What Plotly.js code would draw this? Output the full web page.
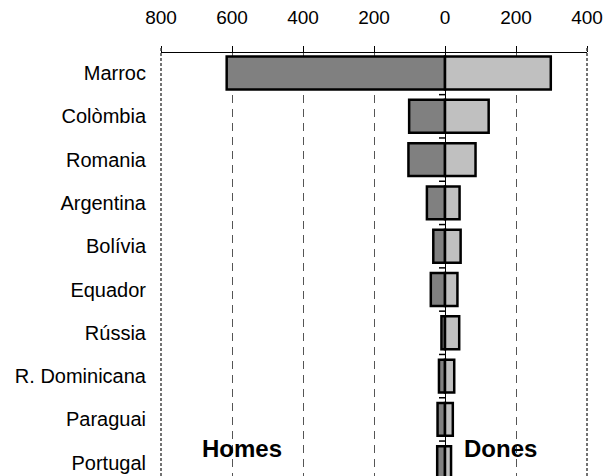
<!DOCTYPE html>
<html>
<head>
<meta charset="utf-8">
<script src="https://cdn.plot.ly/plotly-3.0.1.min.js"></script>
<style>html,body{margin:0;padding:0;background:#fff;}#chart{width:606px;height:476px;}</style>
</head>
<body>
<div id="chart"></div>
<script>
const countries = ["Marroc","Colòmbia","Romania","Argentina","Bolívia","Equador","Rússia","R. Dominicana","Paraguai","Portugal"];
const homes = [615, 101, 103, 51, 33, 40, 10, 17, 21, 22];
const dones = [298, 123, 86, 41, 44, 35, 40, 26, 22, 17];
const tickValues = [-800, -600, -400, -200, 0, 200, 400];
const tickLabels = ["800", "600", "400", "200", "0", "200", "400"];

const font = "Liberation Sans, Arial, sans-serif";
const yRange = [9.307, -0.462];
// boundaries between category rows (for the small ticks on the zero axis)
const boundaries = countries.map((c, i) => i + 0.5);

const traces = [
  {
    type: "bar", orientation: "h", name: "Homes",
    y: countries, x: homes.map(v => -v),
    marker: {color: "#808080", line: {color: "#000", width: 2.5}},
    hoverinfo: "skip"
  },
  {
    type: "bar", orientation: "h", name: "Dones",
    y: countries, x: dones,
    marker: {color: "#c0c0c0", line: {color: "#000", width: 2.5}},
    hoverinfo: "skip"
  }
];

const edgeLines = [0, 1].map(px => ({
  type: "line", xref: "paper", yref: "paper", x0: px, x1: px, y0: 0, y1: 1.014,
  line: {color: "#444", width: 1.5, dash: "3px,2px"}
}));
const zeroTicks = boundaries.map(b => ({
  type: "line", xref: "x", yref: "y", xsizemode: "pixel", xanchor: 0,
  x0: -6, x1: 0, y0: b, y1: b, layer: "above",
  line: {color: "#000", width: 1.5}
}));

const layout = {
  width: 606, height: 476,
  margin: {l: 161, r: 19, t: 53, b: 0, pad: 0},
  paper_bgcolor: "#fff", plot_bgcolor: "#fff",
  showlegend: false,
  barmode: "overlay",
  bargap: 0.24,
  font: {family: font, color: "#000"},
  xaxis: {
    side: "top",
    range: [-800, 400],
    tickvals: tickValues, ticktext: tickLabels,
    ticks: "outside", ticklen: 6, tickcolor: "#000", tickwidth: 1,
    tickfont: {size: 19, family: font, color: "#000"},
    ticklabelstandoff: 14,
    showline: true, linecolor: "#000", linewidth: 1,
    showgrid: true, gridcolor: "#555", gridwidth: 1, griddash: "8px,6px",
    zeroline: true, zerolinecolor: "#000", zerolinewidth: 1,
    layer: "above traces",
    fixedrange: true
  },
  yaxis: {
    type: "category",
    range: yRange,
    ticks: "", showgrid: false, zeroline: false, showline: false,
    tickfont: {size: 20, family: font, color: "#000"},
    ticklabelstandoff: 14,
    fixedrange: true
  },
  shapes: edgeLines.concat(zeroTicks),
  annotations: [
    {text: "<b>Homes</b>", xref: "paper", yref: "paper", x: 0.19, y: 0.066,
     xanchor: "center", yanchor: "middle",
     showarrow: false, font: {size: 24, family: font, color: "#000"}},
    {text: "<b>Dones</b>", xref: "paper", yref: "paper", x: 0.797, y: 0.066,
     xanchor: "center", yanchor: "middle",
     showarrow: false, font: {size: 24, family: font, color: "#000"}}
  ]
};

Plotly.newPlot("chart", traces, layout, {displayModeBar: false, staticPlot: true});
</script>
</body>
</html>
